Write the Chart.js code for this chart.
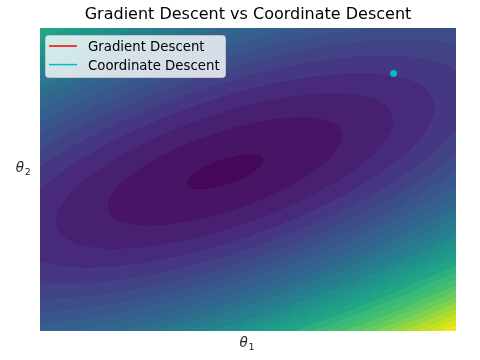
<!DOCTYPE html>
<html><head><meta charset="utf-8">
<script src="https://cdn.jsdelivr.net/npm/chart.js@4/dist/chart.umd.min.js"></script>
<style>html,body{margin:0;padding:0;background:#fff}</style>
</head><body>
<canvas id="c" width="480" height="360"></canvas>
<script>
// ---- data ----
const chartTitle = 'Gradient Descent vs Coordinate Descent';
const seriesNames = ['Gradient Descent', 'Coordinate Descent'];
const seriesColors = ['#ff0000', '#00bfbf'];
const theta1Range = [-2, 2];
const theta2Range = [-2, 2];
const gdTheta1 = [1.4];
const gdTheta2 = [1.4];
const cdTheta1 = [1.4];
const cdTheta2 = [1.4];
// loss surface: centre, quadratic form [a, b, c], power, skew [wx, wy, k]
const lossCenter = [-0.22, 0.10];
const lossQuad = [0.659, -1.350, 1.640];
const lossPower = 0.85;
const lossSkew = [-0.454, 0.891, 0.05];
const contourLevels = [-0.38, 0.08, 0.54, 1.00, 1.46, 1.92, 2.38, 2.84, 3.30, 3.76, 4.22,
  4.68, 5.14, 5.60, 6.06, 6.52, 6.98, 7.44, 7.90, 8.36, 8.82, 9.28, 9.74, 10.20, 10.66,
  11.12, 11.58, 12.04, 12.50];
const viridisStops = [
  [68,1,84],[71,19,101],[72,36,117],[70,51,127],[65,68,135],[59,82,139],[53,95,141],
  [48,104,142],[42,120,142],[38,130,142],[33,145,140],[31,158,137],[34,168,132],
  [53,183,121],[68,191,112],[94,201,98],[122,209,81],[159,218,58],[189,223,38],
  [223,227,24],[253,231,37]];

function viridis(t) {
  t = Math.max(0, Math.min(1, t));
  const s = t * (viridisStops.length - 1);
  const i = Math.min(Math.floor(s), viridisStops.length - 2);
  const f = s - i, a = viridisStops[i], b = viridisStops[i + 1];
  return [0, 1, 2].map(k => Math.round(a[k] + (b[k] - a[k]) * f));
}
function loss(t1, t2) {
  const dx = t1 - lossCenter[0], dy = t2 - lossCenter[1];
  const q = lossQuad[0] * dx * dx + lossQuad[1] * dx * dy + lossQuad[2] * dy * dy;
  const w = lossSkew[0] * dx + lossSkew[1] * dy;
  return Math.pow(Math.max(q, 0), lossPower) * (1 - lossSkew[2] * w);
}

const contourPlugin = {
  id: 'contour',
  beforeDraw(chart) {
    const ctx = chart.ctx, a = chart.chartArea, xs = chart.scales.x, ys = chart.scales.y;
    const x0 = Math.round(a.left), x1 = Math.round(a.right);
    const y0 = Math.round(a.top), y1 = Math.round(a.bottom);
    const w = x1 - x0, h = y1 - y0;
    const L = contourLevels, lo = L[0], hi = L[L.length - 1];
    const bandCols = [];
    for (let k = 0; k < L.length - 1; k++) bandCols.push(viridis(((L[k] + L[k + 1]) / 2 - lo) / (hi - lo)));
    const vx = [], vy = [];
    for (let i = 0; i < w; i++) vx.push(xs.getValueForPixel(x0 + i + 0.5));
    for (let j = 0; j < h; j++) vy.push(ys.getValueForPixel(y0 + j + 0.5));
    const img = ctx.createImageData(w, h);
    for (let j = 0; j < h; j++) {
      for (let i = 0; i < w; i++) {
        const f = loss(vx[i], vy[j]);
        let k = 0;
        while (k < L.length - 2 && f > L[k + 1]) k++;
        const c = bandCols[k], p = (j * w + i) * 4;
        img.data[p] = c[0]; img.data[p + 1] = c[1]; img.data[p + 2] = c[2]; img.data[p + 3] = 255;
      }
    }
    ctx.putImageData(img, x0, y0);
  },
  afterDraw(chart) {
    const ctx = chart.ctx, a = chart.chartArea;
    ctx.save();
    function mathLabel(x, y, sub) {
      ctx.fillStyle = '#262626';
      ctx.textBaseline = 'alphabetic';
      ctx.textAlign = 'left';
      ctx.font = 'italic 13.5px "DejaVu Sans"';
      ctx.fillText('θ', x, y);
      const tw = ctx.measureText('θ').width;
      ctx.font = '9.5px "DejaVu Sans"';
      ctx.fillText(sub, x + tw + 0.8, y + 3);
    }
    mathLabel((a.left + a.right) / 2 - 8.5, a.bottom + 16.3, '1');
    mathLabel(a.left - 24.3, (a.top + a.bottom) / 2 - 8, '2');
    // legend
    const bx = a.left + 5, by = a.top + 7, bw = 180, bh = 42;
    ctx.beginPath();
    ctx.roundRect(bx + 0.5, by + 0.5, bw, bh, 3);
    ctx.fillStyle = 'rgba(255,255,255,0.8)';
    ctx.fill();
    ctx.strokeStyle = 'rgba(204,204,204,0.8)';
    ctx.lineWidth = 1;
    ctx.stroke();
    seriesNames.forEach((name, i) => {
      const ds = chart.data.datasets[i];
      const yy = by + 11 + i * 18.6;
      ctx.beginPath();
      ctx.moveTo(bx + 4, yy); ctx.lineTo(bx + 32, yy);
      ctx.strokeStyle = ds.borderColor; ctx.lineWidth = 1.5; ctx.stroke();
      ctx.fillStyle = '#000';
      ctx.font = '13.3px "DejaVu Sans"';
      ctx.textBaseline = 'alphabetic';
      ctx.fillText(ds.label, bx + 43, yy + 5);
    });
    ctx.restore();
  }
};

new Chart(document.getElementById('c'), {
  type: 'scatter',
  data: {
    datasets: [
      { label: seriesNames[0], data: gdTheta1.map((v, i) => ({x: v, y: gdTheta2[i]})),
        borderColor: seriesColors[0], backgroundColor: seriesColors[0], showLine: true,
        borderWidth: 1.5, pointRadius: 0, order: 2 },
      { label: seriesNames[1], data: cdTheta1.map((v, i) => ({x: v, y: cdTheta2[i]})),
        borderColor: seriesColors[1], backgroundColor: seriesColors[1], showLine: true,
        borderWidth: 1.5, pointRadius: 3.5, pointBorderWidth: 0, order: 1 }
    ]
  },
  options: {
    responsive: false,
    animation: false,
    layout: { padding: { left: 40, right: 24, top: 0, bottom: 29 } },
    scales: {
      x: { type: 'linear', min: theta1Range[0], max: theta1Range[1], display: false },
      y: { type: 'linear', min: theta2Range[0], max: theta2Range[1], display: false }
    },
    plugins: {
      legend: { display: false },
      tooltip: { enabled: false },
      title: { display: true, text: chartTitle, fullSize: false, color: '#000',
        font: { family: 'DejaVu Sans', size: 16, weight: 'normal' },
        padding: { top: 5.5, bottom: 3.3 } }
    }
  },
  plugins: [contourPlugin]
});
</script>
</body></html>
